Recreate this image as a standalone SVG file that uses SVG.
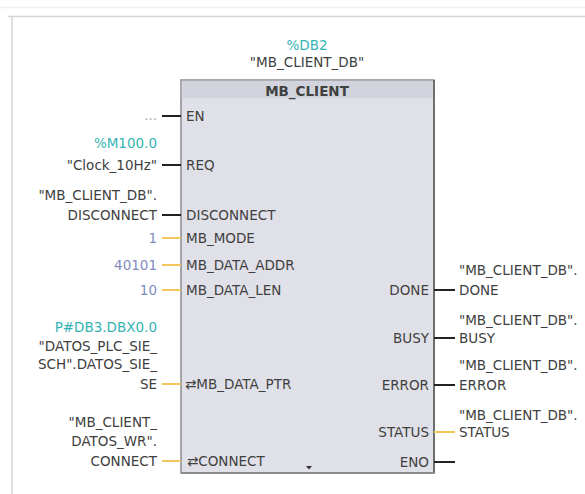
<svg xmlns="http://www.w3.org/2000/svg" width="585" height="494" viewBox="0 0 585 494">
<style>
text{font-family:"DejaVu Sans","Liberation Sans",sans-serif;font-size:13.5px;fill:#404040}
.r{text-anchor:end}
.m{text-anchor:middle}
.teal{fill:#35b4b4}
.blue{fill:#7f8cc0}
.pin{stroke:#222;stroke-width:2}
.ypin{stroke:#f1c65c;stroke-width:2}
.frame{stroke:#d6d6d6;stroke-width:1.5;fill:none}
</style>
<rect width="585" height="494" fill="#ffffff"/>
<g id="frame">
<line x1="0" y1="7.5" x2="585" y2="7.5" stroke="#f0f0f0" stroke-width="1.5"/>
<line class="frame" x1="8" y1="16.5" x2="585" y2="16.5"/>
<line class="frame" x1="12" y1="16.5" x2="12" y2="494"/>
</g>
<g id="instance">
<text class="m teal" x="307" y="50">%DB2</text>
<text class="m" x="307" y="67">"MB_CLIENT_DB"</text>
</g>
<g id="block">
<rect x="181" y="80" width="253" height="393" fill="#e0e0e8" stroke="#8c8c8c" stroke-width="1.5"/>
<rect x="181.75" y="80.75" width="251.5" height="17.5" fill="#d2d4dd"/>
<line x1="434" y1="80" x2="434" y2="473" stroke="#6e6e6e" stroke-width="2"/>
<line x1="181" y1="473" x2="434" y2="473" stroke="#8a8a8a" stroke-width="2"/>
<text class="m" x="307" y="96" font-weight="bold" style="font-weight:bold">MB_CLIENT</text>
<text x="186" y="121">EN</text>
<text x="186" y="170">REQ</text>
<text x="186" y="220">DISCONNECT</text>
<text x="186" y="243">MB_MODE</text>
<text x="186" y="270">MB_DATA_ADDR</text>
<text x="186" y="295">MB_DATA_LEN</text>
<text x="185" y="389">⇄MB_DATA_PTR</text>
<text x="187" y="466">⇄CONNECT</text>
<text class="r" x="429" y="295">DONE</text>
<text class="r" x="429" y="343">BUSY</text>
<text class="r" x="429" y="390">ERROR</text>
<text class="r" x="429" y="437">STATUS</text>
<text class="r" x="429" y="467">ENO</text>
<path d="M306 466 L312 466 L309 469.5 Z" fill="#333"/>
</g>
<g id="connectors">
<line class="pin" x1="162" y1="116" x2="181" y2="116"/>
<line class="pin" x1="162" y1="165" x2="181" y2="165"/>
<line class="pin" x1="162" y1="215" x2="181" y2="215"/>
<line class="ypin" x1="162" y1="238" x2="181" y2="238"/>
<line class="ypin" x1="162" y1="265" x2="181" y2="265"/>
<line class="ypin" x1="162" y1="290" x2="181" y2="290"/>
<line class="ypin" x1="162" y1="384" x2="181" y2="384"/>
<line class="ypin" x1="162" y1="461" x2="181" y2="461"/>
<line class="pin" x1="434" y1="290" x2="455" y2="290"/>
<line class="pin" x1="434" y1="338" x2="455" y2="338"/>
<line class="pin" x1="434" y1="385" x2="455" y2="385"/>
<line class="ypin" x1="434" y1="432" x2="455" y2="432" stroke="#f5d98a"/>
<line class="pin" x1="434" y1="462" x2="455" y2="462"/>
</g>
<g id="op-en"><text class="r" x="157" y="120" fill="#aaa" style="fill:#aaaaaa">...</text></g>
<g id="op-req">
<text class="r teal" x="157" y="148">%M100.0</text>
<text class="r" x="157" y="170">"Clock_10Hz"</text>
</g>
<g id="op-disconnect">
<text class="r" x="157" y="200">"MB_CLIENT_DB".</text>
<text class="r" x="157" y="220">DISCONNECT</text>
</g>
<g id="op-mode"><text class="r blue" x="157" y="243">1</text></g>
<g id="op-addr"><text class="r blue" x="157" y="270">40101</text></g>
<g id="op-len"><text class="r blue" x="157" y="295">10</text></g>
<g id="op-ptr">
<text class="r teal" x="157" y="332">P#DB3.DBX0.0</text>
<text class="r" x="157" y="351">"DATOS_PLC_SIE_</text>
<text class="r" x="157" y="369">SCH".DATOS_SIE_</text>
<text class="r" x="157" y="389">SE</text>
</g>
<g id="op-connect">
<text class="r" x="157" y="427">"MB_CLIENT_</text>
<text class="r" x="157" y="446">DATOS_WR".</text>
<text class="r" x="157" y="466">CONNECT</text>
</g>
<g id="op-done">
<text x="459" y="275">"MB_CLIENT_DB".</text>
<text x="459" y="295">DONE</text>
</g>
<g id="op-busy">
<text x="459" y="325">"MB_CLIENT_DB".</text>
<text x="459" y="343">BUSY</text>
</g>
<g id="op-error">
<text x="459" y="370">"MB_CLIENT_DB".</text>
<text x="459" y="390">ERROR</text>
</g>
<g id="op-status">
<text x="459" y="420">"MB_CLIENT_DB".</text>
<text x="459" y="437">STATUS</text>
</g>
</svg>
